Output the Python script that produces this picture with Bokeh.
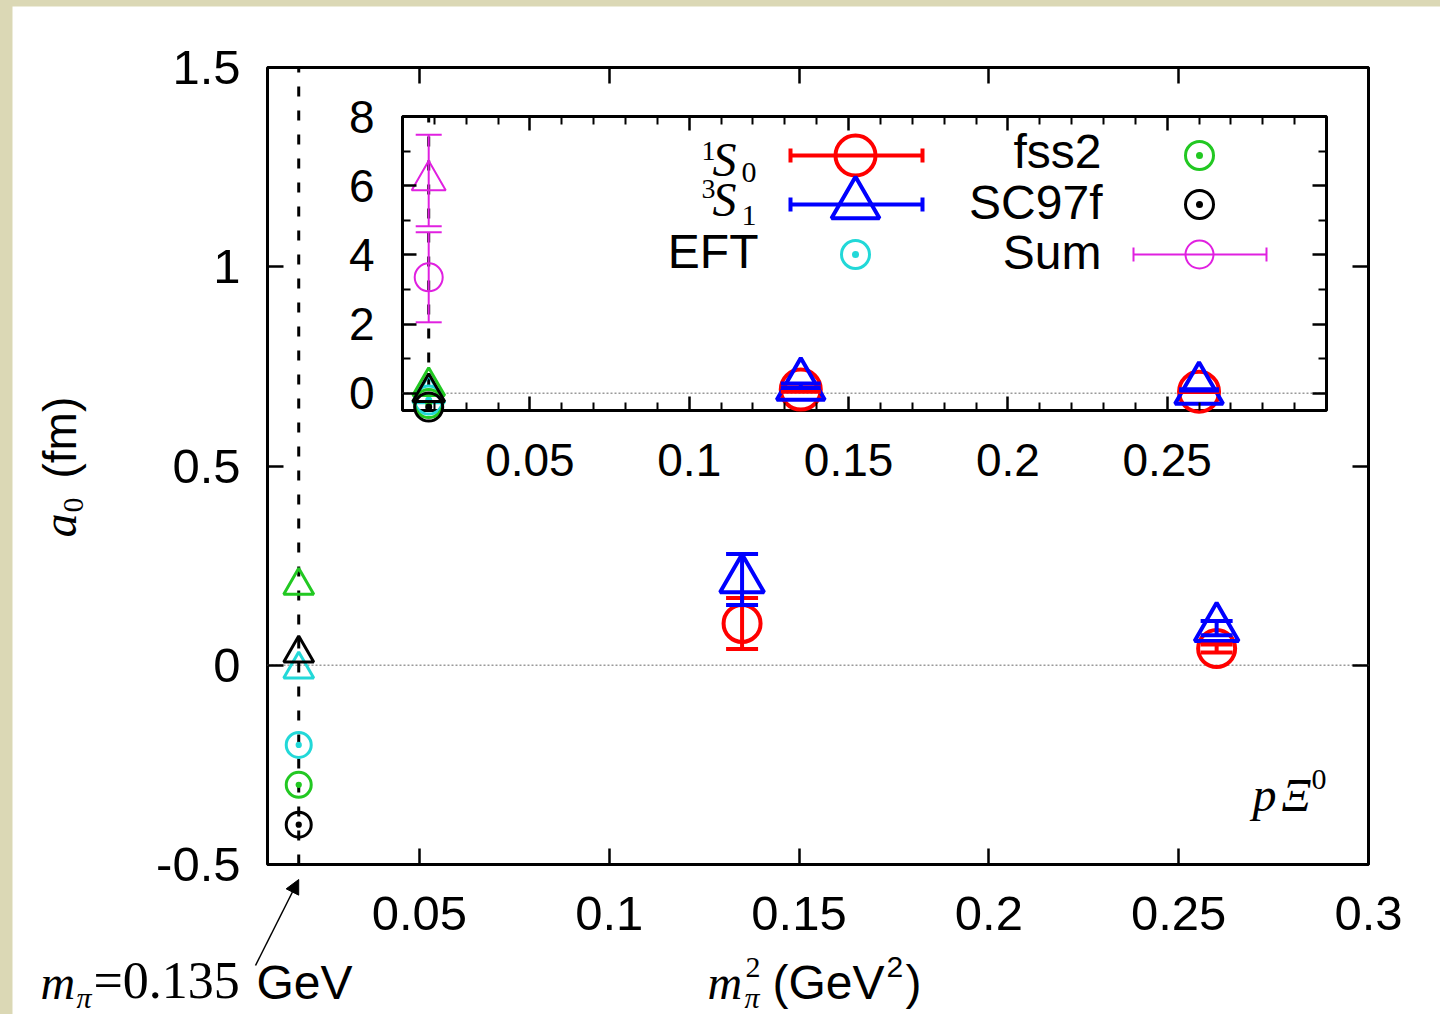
import math
from bokeh.plotting import figure
from bokeh.models import (GridBox, Label, Arrow, NormalHead, Whisker, TeeHead,
                          ColumnDataSource, FixedTicker, LinearAxis, Range1d)
from bokeh.embed import file_html
from bokeh.resources import INLINE

# ---------------- data ----------------
m_pi_phys = 0.135                 # GeV (physical pion mass)
x_phys = m_pi_phys ** 2           # GeV^2
x_lat = [0.135, 0.26]             # lattice m_pi^2 (GeV^2)
a_1S0 = [0.105, 0.042]
e_1S0 = [0.064, 0.010]
a_3S1 = [0.215, 0.093]
e_3S1 = [0.064, 0.018]

models = ["EFT", "fss2", "SC97f"]
model_1S0 = [-0.20, -0.30, -0.40]
model_3S1 = [-0.01, 0.20, 0.03]
model_colors = ["#22d8d8", "#22c822", "#000000"]

sum_1S0 = [3.35]
sum_1S0_err = [1.30]
sum_3S1 = [6.15]
sum_3S1_err = [1.32]

x_ticks = [0.05, 0.1, 0.15, 0.2, 0.25, 0.3]
x_tick_labels = ["0.05", "0.1", "0.15", "0.2", "0.25", "0.3"]
y_ticks = [-0.5, 0.0, 0.5, 1.0, 1.5]
y_tick_labels = ["-0.5", "0", "0.5", "1", "1.5"]
ix_ticks = [0.05, 0.1, 0.15, 0.2, 0.25]
ix_tick_labels = ["0.05", "0.1", "0.15", "0.2", "0.25"]
ix_minor = [0.01, 0.02, 0.03, 0.04, 0.06, 0.07, 0.08, 0.09, 0.11, 0.12, 0.13, 0.14,
            0.16, 0.17, 0.18, 0.19, 0.21, 0.22, 0.23, 0.24, 0.26, 0.27, 0.28, 0.29]
iy_ticks = [0, 2, 4, 6, 8]
iy_tick_labels = ["0", "2", "4", "6", "8"]
iy_minor = [1, 3, 5, 7]

RED, BLUE, MAG = "#ff0000", "#0000ff", "#e020e0"
SANS, SERIF = "Liberation Sans", "Liberation Serif"

# ---------------- layout geometry (window px) ----------------
W, H = 1440, 1014
OX, OY = 12, 6                      # beige strips left / top
FL, FR, FT, FB = 267, 1368, 67, 864  # main plot frame
XR, YR = (0.01, 0.3), (-0.5, 1.5)
IL, IR, IT, IB = 402, 1326, 116, 410  # inset frame
IXR, IYR = (0.01, 0.3), (-0.5, 8.0)


def mx(px):
    return XR[0] + (px - FL) * (XR[1] - XR[0]) / (FR - FL)


def my(py):
    return YR[0] + (FB - py) * (YR[1] - YR[0]) / (FB - FT)


def ix(px):
    return IXR[0] + (px - IL) * (IXR[1] - IXR[0]) / (IR - IL)


def iy(py):
    return IYR[0] + (IB - py) * (IYR[1] - IYR[0]) / (IB - IT)


p = figure(frame_width=W - OX, frame_height=H - OY,
           min_border_left=0, min_border_right=0, min_border_top=0, min_border_bottom=0,
           x_range=Range1d(mx(OX), mx(W)), y_range=Range1d(my(H), my(OY)),
           x_axis_location=None, y_axis_location=None,
           output_backend="svg", toolbar_location=None)
p.extra_x_ranges = {"ix": Range1d(ix(OX), ix(W))}
p.extra_y_ranges = {"iy": Range1d(iy(H), iy(OY))}
p.margin = (OY, 0, 0, OX)
p.border_fill_color = "white"
p.background_fill_color = "white"
p.outline_line_color = None
p.xgrid.visible = False
p.ygrid.visible = False

INS = dict(x_range_name="ix", y_range_name="iy")
BASE_SHIFT = 0.38   # baseline correction (fraction of font size)


def lab(px, py, text, size, font=SANS, style="normal", align="left", rotated=False):
    """Place a text with its baseline at window pixel (px, py)."""
    if rotated:
        x, y, angle = mx(px - BASE_SHIFT * size), my(py), math.pi / 2
    else:
        x, y, angle = mx(px), my(py - BASE_SHIFT * size), 0.0
    p.add_layout(Label(x=x, y=y, text=text, text_font=font, text_font_size=f"{size}px",
                       text_font_style=style, text_align=align, text_baseline="alphabetic",
                       angle=angle, text_color="black"))


def add_axis(side, loc, ticks, labels, fs, show, standoff, minor=None, tick_in=16, **rn):
    ax = LinearAxis(fixed_location=loc, **rn)
    ax.ticker = FixedTicker(ticks=ticks, minor_ticks=minor or [])
    ax.major_label_overrides = {t: l for t, l in zip(ticks, labels)}
    ax.major_label_text_font = SANS
    ax.major_label_text_font_size = f"{fs}px"
    ax.major_label_text_color = "black" if show else None
    ax.major_label_standoff = standoff
    ax.major_tick_in = tick_in
    ax.major_tick_out = 0
    ax.major_tick_line_width = 2.5
    ax.major_tick_line_color = "black"
    ax.minor_tick_in = 8
    ax.minor_tick_out = 0
    ax.minor_tick_line_width = 2
    ax.minor_tick_line_color = "black" if minor else None
    ax.axis_line_color = None
    ax.axis_label = None
    p.add_layout(ax, side)


def whisker(xs, ys, errs, color, lw, head, **rn):
    src = ColumnDataSource(dict(x=xs, lo=[a - e for a, e in zip(ys, errs)],
                                hi=[a + e for a, e in zip(ys, errs)]))
    p.add_layout(Whisker(source=src, base="x", lower="lo", upper="hi", dimension="height",
                         line_color=color, line_width=lw, level="glyph",
                         lower_head=TeeHead(size=head, line_color=color, line_width=lw),
                         upper_head=TeeHead(size=head, line_color=color, line_width=lw), **rn))


# ---------------- main plot ----------------
p.quad(left=[XR[0]], right=[XR[1]], bottom=[YR[0]], top=[YR[1]],
       fill_color=None, line_color="black", line_width=3)
p.segment(x0=[XR[0]], y0=[0], x1=[XR[1]], y1=[0], line_color="#9a9a9a", line_dash="2 2", line_width=1.5)
p.segment(x0=[x_phys], y0=[YR[0]], x1=[x_phys], y1=[YR[1]], line_color="black",
          line_dash="10 14", line_width=3)

for c1, c3, col in zip(model_1S0, model_3S1, model_colors):
    p.scatter([x_phys], [c3], marker="triangle", size=30, fill_color=None, line_color=col, line_width=3)
    p.scatter([x_phys], [c1], marker="circle_dot", size=25, fill_color=None, line_color=col, line_width=3)

whisker(x_lat, a_1S0, e_1S0, RED, 4, 32)
p.scatter(x_lat, a_1S0, marker="circle", size=37, fill_color=None, line_color=RED, line_width=4)
whisker(x_lat, a_3S1, e_3S1, BLUE, 4, 32)
p.scatter(x_lat, a_3S1, marker="triangle", size=44, fill_color=None, line_color=BLUE, line_width=4)

add_axis("below", YR[0], x_ticks, x_tick_labels, 49, True, 32)
add_axis("left", XR[0], y_ticks, y_tick_labels, 49, True, 27)
add_axis("above", YR[1], x_ticks, x_tick_labels, 49, False, 0)
add_axis("right", XR[1], y_ticks, y_tick_labels, 49, False, 0)

# axis titles (mixed fonts)
lab(77, 537, "a", 48, SERIF, "italic", rotated=True)
lab(84, 512, "0", 30, SERIF, rotated=True)
lab(77, 478, "(fm)", 46, SANS, rotated=True)

lab(707, 1000, "m", 48, SERIF, "italic")
lab(745, 978, "2", 30, SERIF)
lab(744, 1008, "π", 30, SERIF, "italic")
lab(772, 1000, "(GeV", 48, SANS)
lab(886, 978, "2", 30, SANS)
lab(905, 1000, ")", 48, SANS)

lab(40, 1000, "m", 48, SERIF, "italic")
lab(76, 1008, "π", 30, SERIF, "italic")
lab(93, 1000, "=0.135", 52, SERIF)
lab(256, 1000, "GeV", 48, SANS)
p.add_layout(Arrow(x_start=mx(255), y_start=my(965), x_end=x_phys, y_end=my(879),
                   line_color="black", line_width=1.5,
                   end=NormalHead(size=14, fill_color="black", line_color="black", line_width=1)))

lab(1252, 812, "p", 48, SERIF, "italic")
lab(1281, 812, "Ξ", 46, SERIF, "italic")
lab(1311, 790, "0", 30, SERIF)

# ---------------- inset ----------------
p.quad(left=[IXR[0]], right=[IXR[1]], bottom=[IYR[0]], top=[IYR[1]],
       fill_color=None, line_color="black", line_width=3, **INS)
p.segment(x0=[IXR[0]], y0=[0], x1=[IXR[1]], y1=[0], line_color="#9a9a9a", line_dash="2 2",
          line_width=1.5, **INS)
p.segment(x0=[x_phys], y0=[IYR[0]], x1=[x_phys], y1=[IYR[1]], line_color="black",
          line_dash="10 14", line_width=3, **INS)

whisker([x_phys], sum_1S0, sum_1S0_err, MAG, 2, 26, **INS)
whisker([x_phys], sum_3S1, sum_3S1_err, MAG, 2, 26, **INS)
p.scatter([x_phys], sum_1S0, marker="circle", size=28, fill_color=None, line_color=MAG, line_width=2, **INS)
p.scatter([x_phys], sum_3S1, marker="triangle", size=34, fill_color=None, line_color=MAG, line_width=2, **INS)

for c1, c3, col in zip(model_1S0, model_3S1, model_colors):
    p.scatter([x_phys], [c3], marker="triangle", size=32, fill_color=None, line_color=col, line_width=3, **INS)
    p.scatter([x_phys], [c1], marker="circle_dot", size=28, fill_color=None, line_color=col, line_width=3, **INS)

whisker(x_lat, a_1S0, e_1S0, RED, 4, 40, **INS)
p.scatter(x_lat, a_1S0, marker="circle", size=40, fill_color=None, line_color=RED, line_width=4, **INS)
whisker(x_lat, a_3S1, e_3S1, BLUE, 4, 40, **INS)
p.scatter(x_lat, a_3S1, marker="triangle", size=48, fill_color=None, line_color=BLUE, line_width=4, **INS)

add_axis("below", IYR[0], ix_ticks, ix_tick_labels, 46, True, 33, ix_minor, 14, **INS)
add_axis("left", IXR[0], iy_ticks, iy_tick_labels, 46, True, 28, iy_minor, 14, **INS)
add_axis("above", IYR[1], ix_ticks, ix_tick_labels, 46, False, 0, ix_minor, 14, **INS)
add_axis("right", IXR[1], iy_ticks, iy_tick_labels, 46, False, 0, iy_minor, 14, **INS)

# legend (two columns, text right-aligned before the key)
rows = [155, 204, 254]


def key_bar(y, x0, x1, color, lw):
    p.segment(x0=[mx(x0)], y0=[my(y)], x1=[mx(x1)], y1=[my(y)], line_color=color, line_width=lw)
    p.segment(x0=[mx(x0), mx(x1)], y0=[my(y - 7), my(y - 7)], x1=[mx(x0), mx(x1)],
              y1=[my(y + 7), my(y + 7)], line_color=color, line_width=lw)


key_bar(rows[0], 790, 922, RED, 4)
p.scatter([mx(855)], [my(rows[0])], marker="circle", size=40, fill_color=None, line_color=RED, line_width=4)
key_bar(rows[1], 790, 922, BLUE, 4)
p.scatter([mx(855)], [my(rows[1])], marker="triangle", size=48, fill_color=None, line_color=BLUE, line_width=4)
p.scatter([mx(855)], [my(rows[2])], marker="circle_dot", size=28, fill_color=None,
          line_color=model_colors[0], line_width=3)
p.scatter([mx(1199)], [my(rows[0])], marker="circle_dot", size=28, fill_color=None,
          line_color=model_colors[1], line_width=3)
p.scatter([mx(1199)], [my(rows[1])], marker="circle_dot", size=28, fill_color=None,
          line_color=model_colors[2], line_width=3)
key_bar(rows[2], 1133, 1266, MAG, 2)
p.scatter([mx(1199)], [my(rows[2])], marker="circle", size=28, fill_color=None, line_color=MAG, line_width=2)

lab(701, 161, "1", 28, SERIF)
lab(712, 177, "S", 48, SERIF, "italic")
lab(741, 183, "0", 30, SERIF)
lab(701, 199, "3", 28, SERIF)
lab(712, 217, "S", 48, SERIF, "italic")
lab(741, 226, "1", 30, SERIF)
lab(758, 269, models[0], 48, SANS, align="right")
lab(1101, 169, models[1], 48, SANS, align="right")
lab(1102, 220, models[2], 48, SANS, align="right")
lab(1101, 270, "Sum", 48, SANS, align="right")

page = GridBox(children=[(p, 0, 0)], styles={"background-color": "#dbd8b5"})

open("out.html", "w").write(file_html(page, INLINE))
